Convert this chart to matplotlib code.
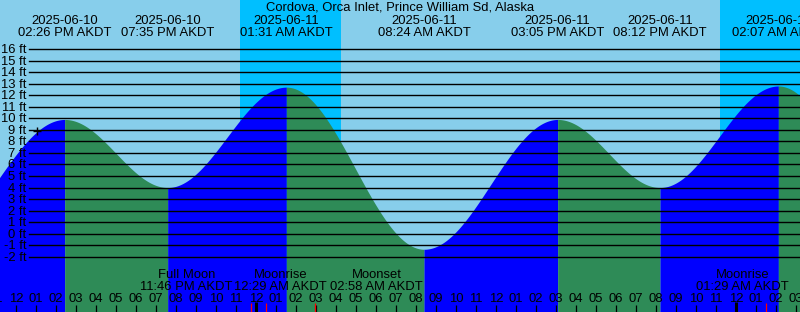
import numpy as np
import pandas as pd
import matplotlib
matplotlib.use("Agg")
import matplotlib.pyplot as plt
from matplotlib.transforms import Affine2D, blended_transform_factory

# ---------------- data ----------------
title = "Cordova, Orca Inlet, Prince William Sd, Alaska"
ext_times = ["2025-06-10 07:40", "2025-06-10 14:26", "2025-06-10 19:35", "2025-06-11 01:31",
             "2025-06-11 08:24", "2025-06-11 15:05", "2025-06-11 20:12", "2025-06-12 02:07",
             "2025-06-12 09:00"]
ext_heights = [-0.8, 9.9, 4.0, 12.7, -1.35, 9.9, 4.0, 12.8, -1.5]
ext_labeled = [False, True, True, True, True, True, True, True, False]

night_start = ["2025-06-10 23:12", "2025-06-11 23:12"]
night_end = ["2025-06-11 04:15", "2025-06-12 04:40"]

moon_names = ["Full Moon", "Moonrise", "Moonset", "Moonrise", "Moonset"]
moon_times = ["2025-06-10 23:46", "2025-06-11 00:29", "2025-06-11 02:58", "2025-06-12 01:29",
              "2025-06-12 03:40"]

y_levels = list(range(-2, 17))
now_time = "2025-06-10 13:04"
now_level = 8.9

window_start = "2025-06-10 11:12"
window_end = "2025-06-12 03:12"

# ---------------- helpers ----------------
base = pd.Timestamp("2025-06-10 00:00")
def hrs(s):
    return (pd.Timestamp(s) - base) / pd.Timedelta(hours=1)

W, H, DPI = 800, 312, 100
fig = plt.figure(figsize=(W / DPI, H / DPI), dpi=DPI)
ax = fig.add_axes([0, 0, 1, 1])
ax.set_axis_off()
SKY = "#87CEEB"
NIGHT = "#00BFFF"
RISE = "#0000FF"
FALL = "#2E8B57"
fig.patch.set_facecolor(SKY)

ppf = 11.54        # pixels per foot
zero_px = 233.7    # pixel row of 0 ft
ymin = (zero_px - H) / ppf
ymax = zero_px / ppf
x0, x1 = hrs(window_start), hrs(window_end)
ax.set_xlim(x0, x1)
ax.set_ylim(ymin, ymax)
ax.add_patch(plt.Rectangle((x0, ymin), x1 - x0, ymax - ymin, color=SKY, zorder=0))

FONT = dict(family=["Liberation Sans", "DejaVu Sans"], size=9.4, color="black")
pix_y = Affine2D().scale(1, -1).translate(0, H)
tx = blended_transform_factory(ax.transData, pix_y)

# night bands
for s, e in zip(night_start, night_end):
    ax.axvspan(hrs(s), hrs(e), color=NIGHT, lw=0, zorder=1)

# tide curve
t_ext = np.array([hrs(s) for s in ext_times])
h_ext = np.array(ext_heights)
for i in range(len(t_ext) - 1):
    t = np.linspace(t_ext[i], t_ext[i + 1], 200)
    f = (t - t_ext[i]) / (t_ext[i + 1] - t_ext[i])
    h = h_ext[i] + (h_ext[i + 1] - h_ext[i]) * (1 - np.cos(np.pi * f)) / 2
    col = RISE if h_ext[i + 1] > h_ext[i] else FALL
    ax.fill_between(t, ymin, h, color=col, lw=0, zorder=2, antialiased=False)

# horizontal level lines and labels
for lv in y_levels:
    ax.axhline(lv, xmin=29 / W, xmax=1, color="black", lw=1.0, zorder=3)
    ax.text(26 / W, zero_px - lv * ppf + 4, f"{lv} ft", ha="right", va="baseline",
            transform=blended_transform_factory(ax.transAxes, pix_y), zorder=4, **FONT)

# "now" marker
ax.plot([hrs(now_time)], [now_level], marker="+", ms=6, mew=1, color="black", zorder=5)

# title
ax.text(0.5, 11, title, ha="center", va="baseline",
        transform=blended_transform_factory(ax.transAxes, pix_y), zorder=6, **FONT)

# extreme labels at top
for s, lab in zip(ext_times, ext_labeled):
    if not lab:
        continue
    ts = pd.Timestamp(s)
    ax.text(hrs(s), 24, ts.strftime("%Y-%m-%d"), ha="center", va="baseline",
            transform=tx, zorder=6, clip_on=False, **FONT)
    ax.text(hrs(s), 36, ts.strftime("%I:%M %p") + " AKDT", ha="center", va="baseline",
            transform=tx, zorder=6, clip_on=False, **FONT)

# hour ticks and labels
hour_start = int(np.floor(x0))
hour_end = int(np.ceil(x1))
for hh in range(hour_start, hour_end + 1):
    ts = base + pd.Timedelta(hours=hh)
    ax.text(hh, 302, ts.strftime("%I"), ha="center", va="baseline",
            transform=tx, zorder=6, **FONT)
    if hh % 24 == 0:
        ax.plot([hh, hh], [302, 312], color="black", lw=2.2, transform=tx, zorder=6,
                solid_capstyle="butt")
    else:
        ax.plot([hh, hh], [305, 312], color="black", lw=0.9, transform=tx, zorder=6,
                solid_capstyle="butt")

# moon events: red ticks and labels (labels shifted to avoid overlap)
label_shift = [-65, 15, 61, -23, 53]
for name, s, dx in zip(moon_names, moon_times, label_shift):
    hv = hrs(s)
    ax.plot([hv, hv], [303, 312], color="red", lw=0.9, transform=tx, zorder=7,
            solid_capstyle="butt")
    ts = pd.Timestamp(s)
    for txt, yb in [(name, 278), (ts.strftime("%I:%M %p") + " AKDT", 290)]:
        ax.annotate(txt, xy=(hv, yb), xycoords=tx, xytext=(dx, 0), textcoords="offset pixels",
                    ha="center", va="baseline", zorder=6, annotation_clip=False, **FONT)

fig.savefig("out.png", dpi=DPI, facecolor=SKY)
